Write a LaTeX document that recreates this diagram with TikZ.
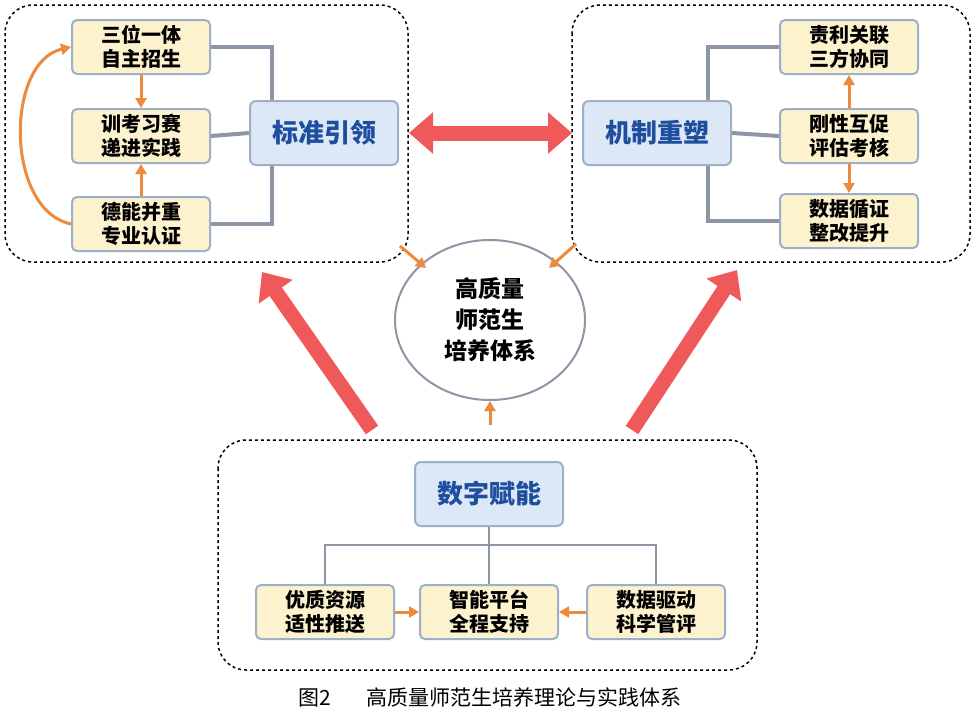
\documentclass[tikz,border=0pt]{standalone}
\usepackage{fontspec}
\setmainfont{Noto Sans CJK SC}
\usetikzlibrary{arrows.meta,shapes.geometric}
\definecolor{sbfill}{HTML}{FDF2CE}
\definecolor{sbdraw}{HTML}{9DB0C8}
\definecolor{bbfill}{HTML}{DCE8F5}
\definecolor{btext}{HTML}{1F4E9E}
\definecolor{orng}{HTML}{EC8B3D}
\definecolor{redar}{HTML}{F0595A}
\definecolor{gline}{HTML}{8C96A4}
\tikzset{
 smallbox/.style={draw=sbdraw,fill=sbfill,line width=2pt,rounded corners=5pt,minimum width=138pt,minimum height=54pt,align=center,font=\fontsize{20}{24}\selectfont\bfseries},
 bigbox/.style={draw=sbdraw,fill=bbfill,line width=2pt,rounded corners=6pt,minimum width=148pt,minimum height=64pt,font=\fontsize{26}{28}\selectfont\bfseries,text=btext},
 frame/.style={draw,dashed,line width=1.5pt,rounded corners=28pt},
 oarr/.style={orng,line width=3pt,-{Triangle[length=10pt,width=11pt]}},
 gl/.style={gline,line width=4pt},
 rarr/.style={redar,line width=15pt,-{Triangle[length=24pt,width=40pt]}}
}
\begin{document}
\begin{tikzpicture}[x=1pt,y=-1pt]
\useasboundingbox[fill=white] (0,0) rectangle (977,723);
\draw[frame] (5,5) rectangle (408,262);
\draw[frame] (572,5) rectangle (970,262);
\draw[frame] (218,440) rectangle (757,670);
% left
\node[smallbox] (l1) at (141,47) {三位一体\\自主招生};
\node[smallbox] (l2) at (141,136) {训考习赛\\递进实践};
\node[smallbox] (l3) at (141,224) {德能并重\\专业认证};
\node[bigbox] (bl) at (324,133) {标准引领};
\coordinate (lv1) at (272,47); \coordinate (lv3) at (272,224);
\draw[gl] (l1.east) -- (lv1) -- (lv1|-bl.north);
\draw[gl] (l3.east) -- (lv3) -- (lv3|-bl.south);
\draw[gl] (l2.east) -- (bl.west);
\draw[oarr] (l1.south) -- (l2.north);
\draw[oarr] (l3.north) -- (l2.south);
\draw[oarr] (l3.west) .. controls (5,210) and (5,62) .. (l1.west);
% right
\node[smallbox] (r1) at (849,47) {责利关联\\三方协同};
\node[smallbox] (r2) at (849,136) {刚性互促\\评估考核};
\node[smallbox] (r3) at (849,221) {数据循证\\整改提升};
\node[bigbox] (br) at (657,133) {机制重塑};
\coordinate (rv1) at (708,47); \coordinate (rv3) at (708,221);
\draw[gl] (r1.west) -- (rv1) -- (rv1|-br.north);
\draw[gl] (r3.west) -- (rv3) -- (rv3|-br.south);
\draw[gl] (br.east) -- (r2.west);
\draw[oarr] (r2.north) -- (r1.south);
\draw[oarr] (r2.south) -- (r3.north);
% center
\node[ellipse,draw=gline,line width=2pt,minimum width=190pt,minimum height=160pt,align=center,font=\fontsize{23}{31}\selectfont\bfseries] (c) at (490,320) {高质量\\师范生\\培养体系};
% bottom
\node[bigbox] (bd) at (489,494) {数字赋能};
\node[smallbox] (b1) at (325,612) {优质资源\\适性推送};
\node[smallbox] (b2) at (489,612) {智能平台\\全程支持};
\node[smallbox] (b3) at (656,612) {数据驱动\\科学管评};
\coordinate (bj) at (489,545);
\draw[gl,line width=2pt] (bd.south) -- (bj);
\draw[gl,line width=2pt] (b1.north) -- (b1.north|-bj) -- (b3.north|-bj) -- (b3.north);
\draw[gl,line width=2pt] (bj) -- (b2.north);
\draw[oarr] (b1.east) -- (b2.west);
\draw[oarr] (b3.west) -- (b2.east);
% arrows to center
\coordinate (a1) at (400,246); \coordinate (a2) at (576,244); \coordinate (a3) at (490,425);
\draw[oarr] (a1) -- (426,268);
\draw[oarr] (a2) -- (549,268);
\draw[oarr] (a3) -- (c.south);
% red arrows
\draw[redar,line width=15pt,{Triangle[length=24pt,width=40pt]}-{Triangle[length=24pt,width=40pt]}] (bl.east) ++(10,0) -- ([xshift=-10pt]br.west);
\coordinate (s1) at (372,430); \coordinate (s2) at (632,430);
\draw[rarr] (s1) -- (262,272);
\draw[rarr] (s2) -- (737,270);
\node[font=\fontsize{21}{24}\selectfont] (cap) at (490,697) {图2\hspace{36pt}高质量师范生培养理论与实践体系};
\end{tikzpicture}
\end{document}
